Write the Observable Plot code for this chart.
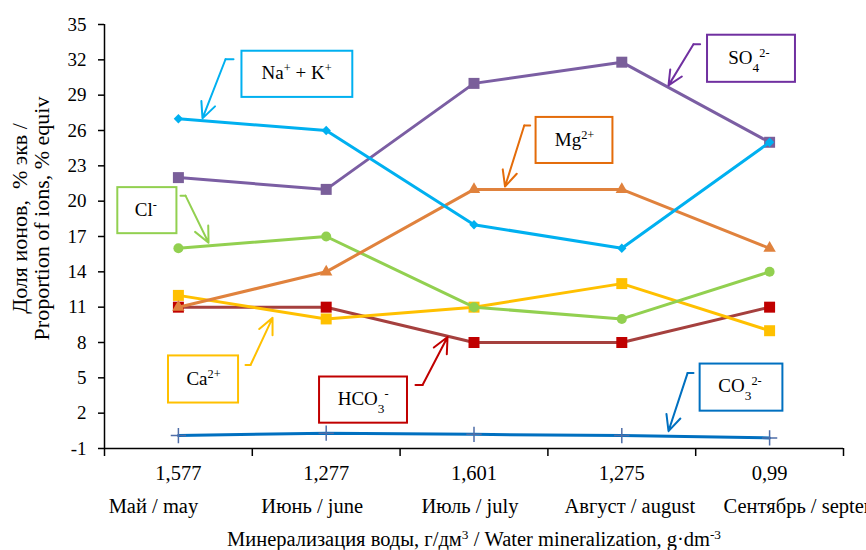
<!DOCTYPE html>
<html>
<head>
<meta charset="utf-8">
<script src="https://cdn.jsdelivr.net/npm/d3@7"></script>
<script src="https://cdn.jsdelivr.net/npm/@observablehq/plot@0.6"></script>
<style>
  html, body { margin: 0; padding: 0; background: #fff; }
  #chart { width: 866px; height: 550px; overflow: hidden; }
</style>
</head>
<body>
<div id="chart"></div>
<script>
// ---- data ----
const months = ["Май / may", "Июнь / june", "Июль / july", "Август / august", "Сентябрь / september"];
const mineralization = ["1,577", "1,277", "1,601", "1,275", "0,99"];
const naK  = [27, 26, 18, 16, 25];
const so4  = [22, 21, 30, 31.8, 25];
const mg   = [11, 14, 21, 21, 16];
const cl   = [16, 17, 11, 10, 14];
const ca   = [12, 10, 11, 13, 9];
const hco3 = [11, 11, 8, 8, 11];
const co3  = [0.1, 0.3, 0.2, 0.1, -0.1];
const yTicks = d3.range(-1, 36, 3);
const yLabel1 = "Доля ионов,  % экв /";
const yLabel2 = "Proportion of ions, % equiv";
const xTitle = "Минерализация воды, г/дм³ / Water mineralization, g·dm⁻³";

// callout labels (positions in data units: x = month index, y = %)
const callouts = [
  {label: "Na⁺ + K⁺", color: "#00b0f0", box: [0.43, 1.18, 28.81, 32.73], text: [0.80, 30.85], path: [[0.373, 32.05], [0.319, 32.05], [0.163, 27.03]]},
  {label: "SO₄²⁻",    color: "#7030a0", box: [3.58, 4.175, 30.09, 34.09], text: [3.86, 32.2], path: [[3.53, 33.32], [3.485, 33.32], [3.316, 29.83]]},
  {label: "Mg²⁺",     color: "#e46c0a", box: [2.42, 2.94, 23.2, 27.11],  text: [2.68, 25.2], path: [[2.38, 26.43], [2.34, 26.43], [2.21, 21.24]]},
  {label: "Cl⁻",      color: "#92d050", box: [-0.41, -0.01, 17.24, 21.15], text: [-0.22, 19.25], path: [[0.014, 20.47], [0.048, 20.47], [0.204, 16.47]]},
  {label: "Ca²⁺",     color: "#ffc000", box: [-0.067, 0.407, 2.86, 6.86], text: [0.17, 4.95], path: [[0.454, 6.09], [0.488, 6.09], [0.637, 10.09]]},
  {label: "HCO₃⁻",    color: "#c00000", box: [0.955, 1.55, 1.15, 5.07], text: [1.25, 3.2], path: [[1.604, 4.39], [1.652, 4.39], [1.821, 8.47]]},
  {label: "CO₃²⁻",    color: "#0070c0", box: [3.53, 4.09, 2.17, 6.17], text: [3.80, 4.3], path: [[3.485, 5.4], [3.445, 5.4], [3.316, 0.47]]}
];

// ---- styles ----
const series = [
  {values: so4,  line: "#7b5ea3", mark: "#7a5f9a", symbol: "square",   r: 6.2},
  {values: hco3, line: "#a5403e", mark: "#c00000", symbol: "square",   r: 6.2},
  {values: ca,   line: "#ffc000", mark: "#ffc000", symbol: "square",   r: 6.2},
  {values: cl,   line: "#92d050", mark: "#92d050", symbol: "circle",   r: 5},
  {values: mg,   line: "#e0823d", mark: "#e0823d", symbol: "triangle", r: 4.6},
  {values: naK,  line: "#00b0f0", mark: "#00b0f0", symbol: "diamond2", r: 4.2},
];

const idx = d3.range(months.length);
const bounds = d3.range(-0.5, months.length, 1);
const lastIdx = months.length - 1;
const xFont = 20.5;
// label nudges (px) mimicking the original label placement
const monthShift = [-25, -14, -4, 8];

const marks = [];
// axes
marks.push(Plot.ruleY([-1], {stroke: "#000", strokeWidth: 1.5}));
marks.push(Plot.ruleX([-0.5], {stroke: "#000", strokeWidth: 1.5}));
marks.push(Plot.axisY({ticks: yTicks, tickSize: 6, tickPadding: 12, tickFormat: d => String(d), label: null, stroke: "#000", strokeWidth: 1.5, fill: "#000"}));
marks.push(Plot.axisX({ticks: bounds, tickSize: 8, tickFormat: () => "", label: null, stroke: "#000", strokeWidth: 1.5}));
marks.push(Plot.text(idx, {x: d => d, text: d => mineralization[d], frameAnchor: "bottom", lineAnchor: "middle", textAnchor: "middle", dy: 25, fill: "#000", fontSize: xFont}));
for (let i = 0; i < lastIdx; i++) {
  marks.push(Plot.text([i], {x: d => d, text: d => months[d], frameAnchor: "bottom", lineAnchor: "middle", textAnchor: "middle", dx: monthShift[i], dy: 58, fill: "#000", fontSize: xFont}));
}
marks.push(Plot.text([lastIdx], {x: d => d, text: d => months[d], frameAnchor: "bottom", lineAnchor: "middle", textAnchor: "start", dx: -46, dy: 58, fill: "#000", fontSize: xFont}));
marks.push(Plot.text([xTitle], {text: d => d, frameAnchor: "bottom", lineAnchor: "middle", textAnchor: "middle", dy: 91, fill: "#000", fontSize: xFont}));
marks.push(Plot.text([yLabel1], {text: d => d, frameAnchor: "left", textAnchor: "middle", lineAnchor: "middle", rotate: -90, dx: -85, dy: -18, fill: "#000", fontSize: 22}));
marks.push(Plot.text([yLabel2], {text: d => d, frameAnchor: "left", textAnchor: "middle", lineAnchor: "middle", rotate: -90, dx: -63, dy: -18, fill: "#000", fontSize: 22}));

// CO3 line (bottom)
marks.push(Plot.line(idx, {x: d => d, y: d => co3[d], stroke: "#0070c0", strokeWidth: 3}));
marks.push(Plot.dot(idx, {x: d => d, y: d => co3[d], symbol: "plus", stroke: "#4f6ea8", r: 5, strokeWidth: 1.5}));

for (const s of series) {
  marks.push(Plot.line(idx, {x: d => d, y: d => s.values[d], stroke: s.line, strokeWidth: 3}));
  marks.push(Plot.dot(idx, {x: d => d, y: d => s.values[d], symbol: s.symbol, fill: s.mark, r: s.r, stroke: "none"}));
}

// callouts
for (const c of callouts) {
  marks.push(Plot.rect([c], {x1: d => d.box[0], x2: d => d.box[1], y1: d => d.box[2], y2: d => d.box[3], fill: "white", stroke: c.color, strokeWidth: 2}));
  marks.push(Plot.text([c], {x: d => d.text[0], y: d => d.text[1], text: d => d.label, fill: "#000", fontSize: 19}));
  marks.push(Plot.line(c.path.slice(0, 2), {x: d => d[0], y: d => d[1], stroke: c.color, strokeWidth: 2}));
  marks.push(Plot.arrow([c], {x1: d => d.path[1][0], y1: d => d.path[1][1], x2: d => d.path[2][0], y2: d => d.path[2][1], stroke: c.color, strokeWidth: 2, headLength: 13, headAngle: 50}));
}

const chart = Plot.plot({
  width: 866,
  height: 550,
  marginLeft: 104,
  marginRight: 23,
  marginTop: 24,
  marginBottom: 102,
  x: {type: "linear", domain: [-0.5, 4.5]},
  y: {type: "linear", domain: [-1, 35]},
  style: {fontFamily: "'Liberation Serif', 'Times New Roman', serif", fontSize: "19px", color: "#000", background: "#fff", overflow: "hidden"},
  marks
});

// render super/subscript characters as tspans
const supMap = {"⁺": "+", "⁻": "-", "²": "2", "³": "3"};
const subMap = {"₃": "3", "₄": "4"};
d3.select(chart).selectAll("text").each(function() {
  const el = this;
  if (el.querySelector("tspan")) return;
  const s = el.textContent;
  if (!/[⁺⁻²³₃₄]/.test(s)) return;
  const runs = [];
  for (const ch of s) {
    const t = supMap[ch] ? "sup" : subMap[ch] ? "sub" : "n";
    const c = supMap[ch] || subMap[ch] || ch;
    if (runs.length && runs[runs.length - 1].t === t) runs[runs.length - 1].s += c;
    else runs.push({t, s: c});
  }
  el.textContent = "";
  for (const r of runs) {
    const ts = document.createElementNS("http://www.w3.org/2000/svg", "tspan");
    ts.textContent = r.s;
    if (r.t === "sup") { ts.setAttribute("baseline-shift", "super"); ts.setAttribute("font-size", "65%"); }
    if (r.t === "sub") { ts.setAttribute("baseline-shift", "sub"); ts.setAttribute("font-size", "70%"); }
    el.appendChild(ts);
  }
});

document.getElementById("chart").appendChild(chart);
</script>
</body>
</html>
